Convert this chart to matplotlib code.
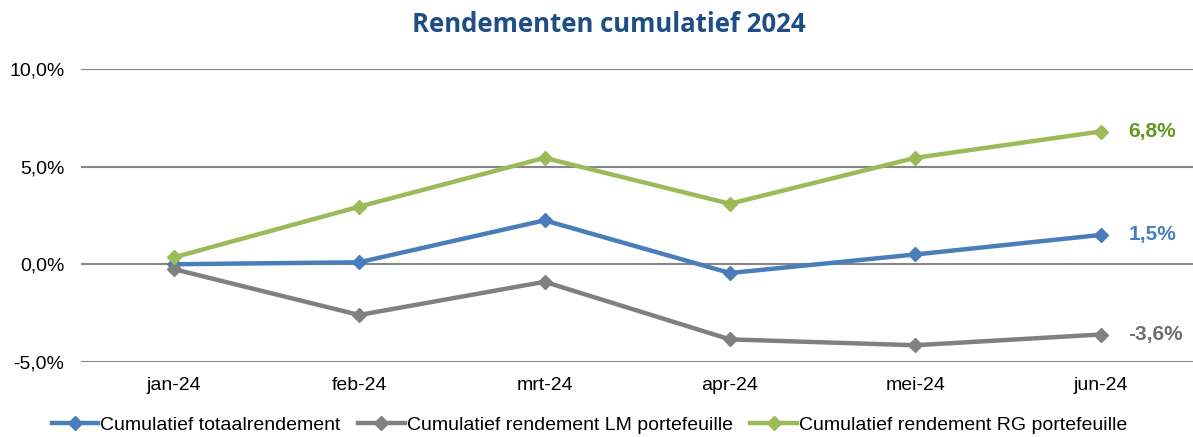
import numpy as np
import matplotlib.pyplot as plt
from matplotlib.ticker import FuncFormatter

# Data
maanden = ['jan-24', 'feb-24', 'mrt-24', 'apr-24', 'mei-24', 'jun-24']
totaal = [0.0, 0.1, 2.25, -0.45, 0.5, 1.5]
lm_portefeuille = [-0.25, -2.6, -0.9, -3.85, -4.15, -3.6]
rg_portefeuille = [0.35, 2.95, 5.45, 3.1, 5.45, 6.8]

series_namen = ['Cumulatief totaalrendement',
                'Cumulatief rendement LM portefeuille',
                'Cumulatief rendement RG portefeuille']
lijn_kleuren = ['#4a7ebb', '#808080', '#9bbb59']
label_kleuren = ['#4a7ebb', '#6e6e6e', '#5f9a1e']

plt.rcParams['font.family'] = ['Liberation Sans', 'DejaVu Sans']

fig = plt.figure(figsize=(11.93, 4.37), dpi=100)
ax = fig.add_axes([0.068, 0.172, 0.94, 0.670])

x = np.arange(len(maanden))
for waarden, naam, kleur, lkleur in zip([totaal, lm_portefeuille, rg_portefeuille],
                                        series_namen, lijn_kleuren, label_kleuren):
    ax.plot(x, waarden, color=kleur, lw=3.2, marker='D', markersize=7,
            label=naam, zorder=3)
    ax.annotate(f"{waarden[-1]:.1f}%".replace('.', ','), (x[-1], waarden[-1]),
                xytext=(20, 0), textcoords='offset points', va='center',
                ha='left', color=lkleur, fontsize=15, fontweight='bold')

ax.set_xlim(-0.5, 5.55)
ax.set_ylim(-5, 10)
ax.set_yticks([-5, 0, 5, 10])
ax.yaxis.set_major_formatter(FuncFormatter(lambda v, p: f"{v:.1f}%".replace('.', ',')))
ax.set_xticks(x)
ax.set_xticklabels(maanden)
ax.tick_params(length=0, labelsize=14, colors='black')
ax.tick_params(axis='x', pad=11)
ax.tick_params(axis='y', pad=12)
ax.grid(axis='y', color='#868686', lw=1.5)
ax.set_axisbelow(True)
for s in ax.spines.values():
    s.set_visible(False)

fig.text(0.51, 0.945, 'Rendementen cumulatief 2024', ha='center', va='center',
         fontsize=18.5, fontweight='bold', color='#1f4e85', family='Open Sans')

fig.legend(loc='center', bbox_to_anchor=(0.494, 0.027), ncol=3, frameon=False,
           fontsize=14, handlelength=2.4, handletextpad=0.1, columnspacing=0.9,
           borderaxespad=0)

fig.savefig('out.png', dpi=100)
